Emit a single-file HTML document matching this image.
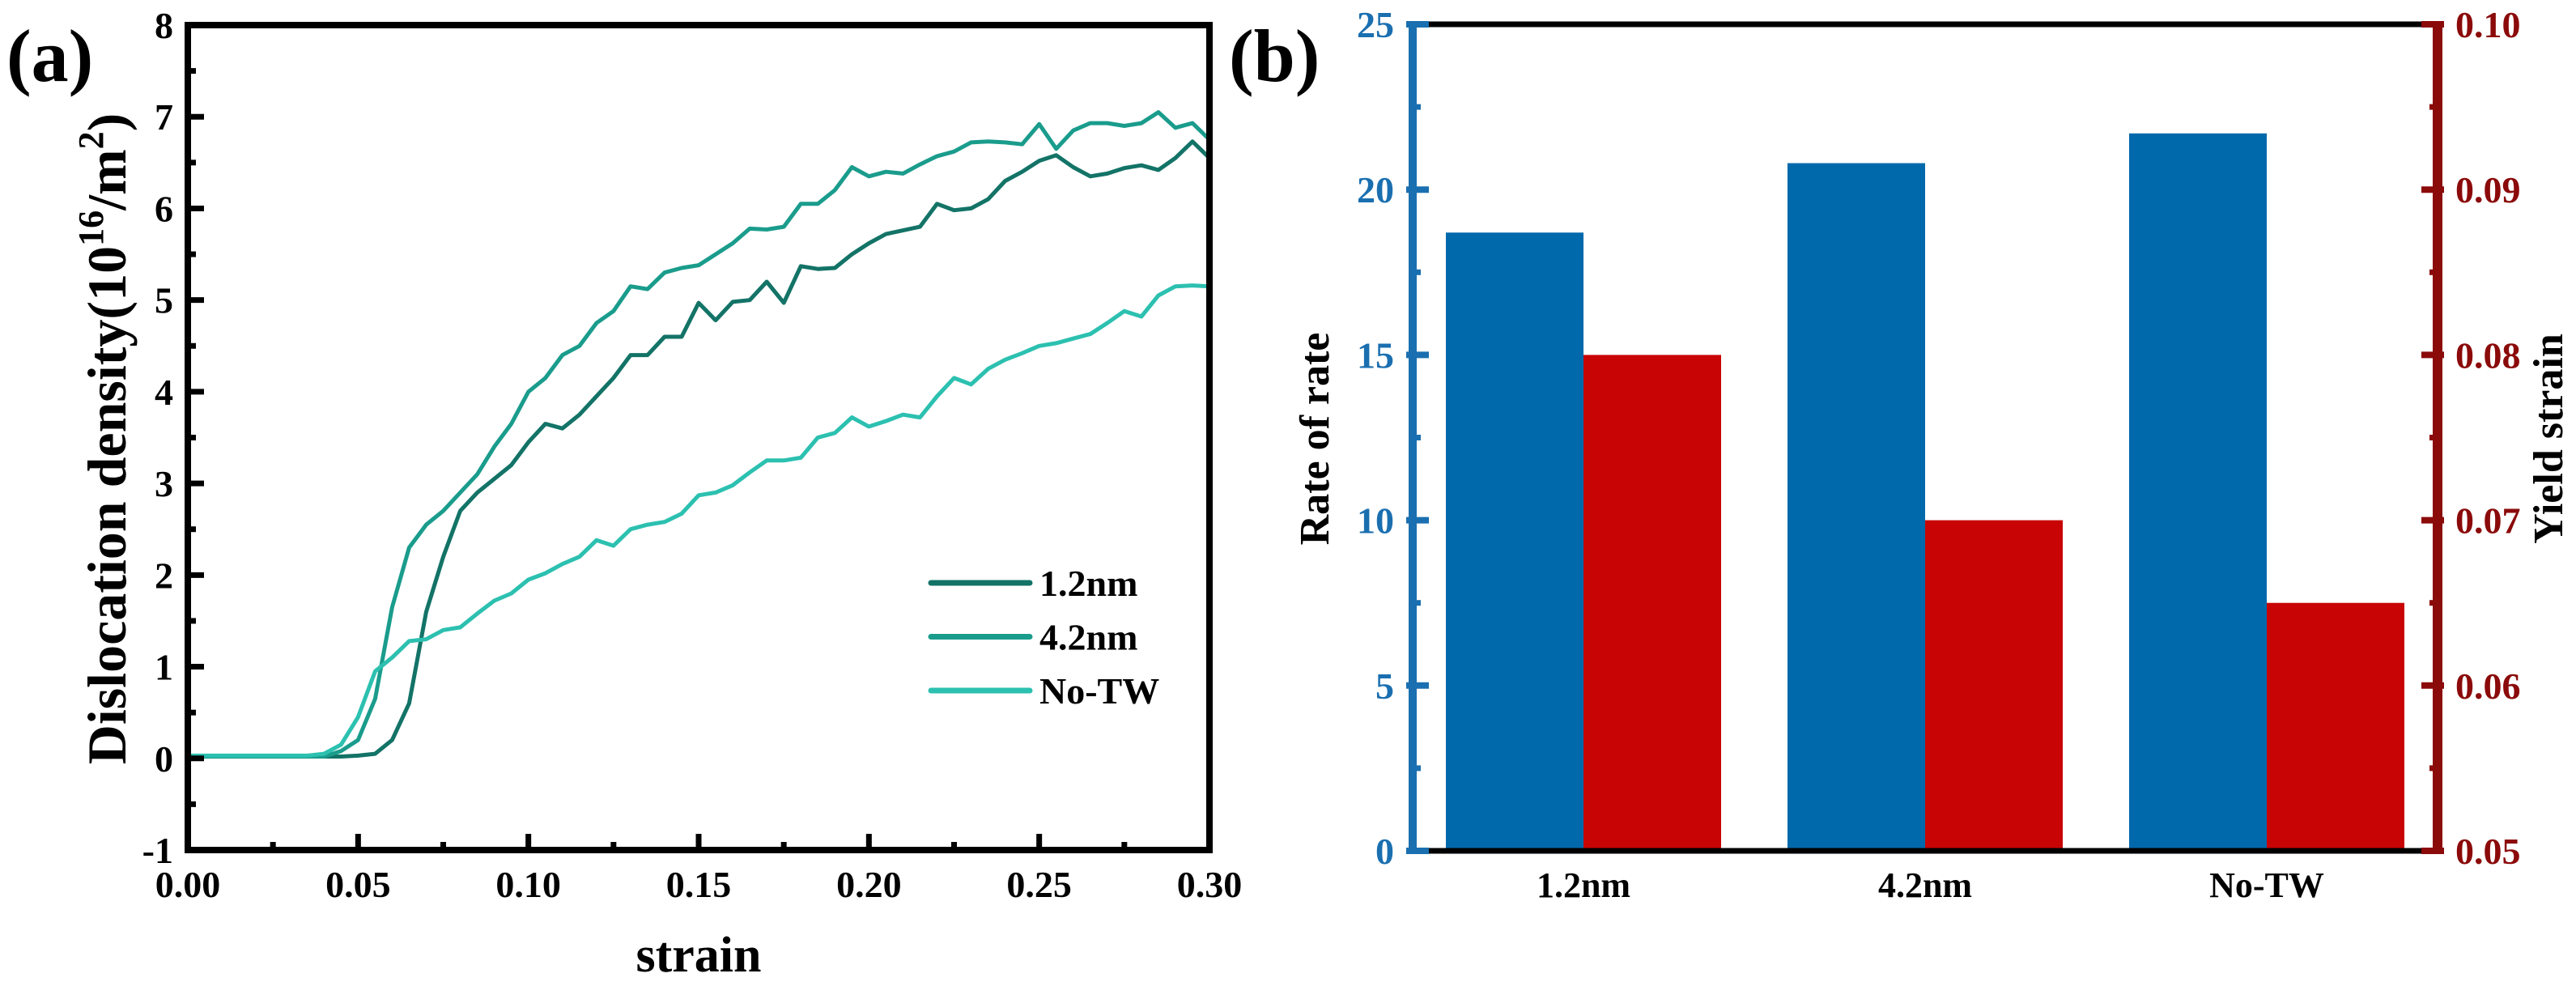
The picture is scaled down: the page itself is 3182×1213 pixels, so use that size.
<!DOCTYPE html>
<html><head><meta charset="utf-8"><style>
html,body{margin:0;padding:0;background:#fff;}
svg{display:block;font-family:"Liberation Serif",serif;font-weight:bold;}
</style></head><body>
<svg id="fig" width="3182" height="1213" viewBox="0 0 3182 1213" xmlns="http://www.w3.org/2000/svg">
<g id="pa"></g>
<g id="pb"></g>
</svg>
<script>
const strain = [];
for (let i = 0; i <= 60; i++) strain.push(i * 0.005);
const s12 = [0.02,0.02,0.02,0.02,0.02,0.02,0.02,0.02,0.02,0.02,0.03,0.05,0.2,0.6,1.6,2.2,2.7,2.9,3.05,3.2,3.45,3.65,3.6,3.75,3.95,4.15,4.4,4.4,4.6,4.6,4.97,4.78,4.98,5.0,5.2,4.97,5.37,5.34,5.35,5.5,5.62,5.72,5.76,5.8,6.05,5.98,6.0,6.1,6.3,6.4,6.52,6.58,6.45,6.35,6.38,6.44,6.47,6.42,6.55,6.73,6.55];
const s42 = [0.02,0.02,0.02,0.02,0.02,0.02,0.02,0.02,0.02,0.08,0.2,0.65,1.65,2.3,2.55,2.7,2.9,3.1,3.4,3.65,4.0,4.15,4.4,4.5,4.75,4.88,5.15,5.12,5.3,5.35,5.38,5.5,5.62,5.78,5.77,5.8,6.05,6.05,6.2,6.45,6.35,6.4,6.38,6.48,6.57,6.62,6.72,6.73,6.72,6.7,6.92,6.65,6.85,6.93,6.93,6.9,6.93,7.05,6.88,6.93,6.75];
const sNo = [0.03,0.03,0.03,0.03,0.03,0.03,0.03,0.03,0.05,0.15,0.45,0.95,1.1,1.28,1.3,1.4,1.43,1.58,1.72,1.8,1.95,2.02,2.12,2.2,2.38,2.32,2.5,2.55,2.58,2.67,2.87,2.9,2.98,3.12,3.25,3.25,3.28,3.5,3.55,3.72,3.62,3.68,3.75,3.72,3.95,4.15,4.08,4.25,4.35,4.42,4.5,4.53,4.58,4.63,4.75,4.88,4.82,5.05,5.15,5.16,5.15];
const seriesNames = ["1.2nm","4.2nm","No-TW"];
const xTicks = ["0.00","0.05","0.10","0.15","0.20","0.25","0.30"];
const yTicks = ["-1","0","1","2","3","4","5","6","7","8"];
const categories = ["1.2nm","4.2nm","No-TW"];
const rateVals = [18.7, 20.8, 21.7];
const yieldVals = [0.080, 0.070, 0.065];
const leftTicks = ["0","5","10","15","20","25"];
const rightTicks = ["0.05","0.06","0.07","0.08","0.09","0.10"];

const NS = "http://www.w3.org/2000/svg";
function mk(parent, tag, attrs, text){
  const e = document.createElementNS(NS, tag);
  for (const k in attrs) e.setAttribute(k, attrs[k]);
  if (text !== undefined) e.textContent = text;
  parent.appendChild(e); return e;
}
// Panel a
const pa = document.getElementById('pa');
const AX0=232, AX1=1494, AY0=1050, AY1=31;
const ax = v => AX0 + (v-0)/(0.3)*(AX1-AX0);
const ay = v => AY0 - (v+1)/9*(AY0-AY1);
const colors = ["#137367","#1a9c8c","#2cc0b0"];
[s12,s42,sNo].forEach((s,k)=>{
  const d = s.map((v,i)=>(i?'L':'M')+ax(strain[i]).toFixed(1)+','+ay(v).toFixed(1)).join(' ');
  const p = mk(pa,'path',{d:d,fill:'none',stroke:colors[k],'stroke-width':5,'stroke-linejoin':'round'});
  
  
});
const fa = mk(pa,'rect',{x:AX0,y:AY1,width:AX1-AX0,height:AY0-AY1,fill:'none',stroke:'#000','stroke-width':8});


xTicks.forEach((t,i)=>{
  const v = parseFloat(t), x = ax(v);
  mk(pa,'line',{x1:x,x2:x,y1:AY0,y2:AY0-20,stroke:'#000','stroke-width':7});
  if (i<xTicks.length-1) { const xm = ax(v+0.025); mk(pa,'line',{x1:xm,x2:xm,y1:AY0,y2:AY0-10,stroke:'#000','stroke-width':7}); }
  const tx = mk(pa,'text',{x:x,y:1108,'font-size':46,'text-anchor':'middle'},t);
  
  
});
yTicks.forEach((t,i)=>{
  const v = parseFloat(t), y = ay(v);
  mk(pa,'line',{x1:AX0,x2:AX0+20,y1:y,y2:y,stroke:'#000','stroke-width':7});
  if (i<yTicks.length-1) { const ym = ay(v+0.5); mk(pa,'line',{x1:AX0,x2:AX0+10,y1:ym,y2:ym,stroke:'#000','stroke-width':7}); }
  const tx = mk(pa,'text',{x:214,y:y+16,'font-size':46,'text-anchor':'end'},t);
  
  
});
seriesNames.forEach((n,k)=>{
  const y = 720 + k*66.5;
  const l = mk(pa,'line',{x1:1150,x2:1272,y1:y,y2:y,stroke:colors[k],'stroke-width':7,'stroke-linecap':'round'});
  
  
  const tx = mk(pa,'text',{x:1284,y:y+16,'font-size':46},n);
  
  
});
// Panel b
const pb = document.getElementById('pb');
const BX0=1745, BX1=3011, BY0=1051, BY1=30;
const bx = c => BX0 + (c+0.5)/3*(BX1-BX0);
const byL = v => BY0 - v/25*(BY0-BY1);
const byR = v => BY0 - (v-0.05)/0.05*(BY0-BY1);
const BW = 170;
categories.forEach((c,i)=>{
  const cx = bx(i);
  const b1 = mk(pb,'rect',{x:cx-BW,y:byL(rateVals[i]),width:BW,height:BY0-byL(rateVals[i]),fill:'#0069ab'});
  
  
  const b2 = mk(pb,'rect',{x:cx,y:byR(yieldVals[i]),width:BW,height:BY0-byR(yieldVals[i]),fill:'#c80404'});
  
  
  const tx = mk(pb,'text',{x:cx,y:1108,'font-size':44,'text-anchor':'middle'},c);
  
  
});
mk(pb,'line',{x1:BX0,x2:BX1,y1:BY1,y2:BY1,stroke:'#000','stroke-width':7});
mk(pb,'line',{x1:BX0,x2:BX1,y1:BY0,y2:BY0,stroke:'#000','stroke-width':7});
const la = mk(pb,'line',{x1:BX0,x2:BX0,y1:BY1-4,y2:BY0+4,stroke:'#1a6fb0','stroke-width':10});


const ra = mk(pb,'line',{x1:BX1,x2:BX1,y1:BY1-4,y2:BY0+4,stroke:'#8b0a0a','stroke-width':12});


leftTicks.forEach((t,i)=>{
  const v = parseFloat(t), y = byL(v);
  mk(pb,'line',{x1:BX0-8,x2:BX0+20,y1:y,y2:y,stroke:'#1a6fb0','stroke-width':8});
  if (i<leftTicks.length-1){ const ym=byL(v+2.5); mk(pb,'line',{x1:BX0,x2:BX0+10,y1:ym,y2:ym,stroke:'#1a6fb0','stroke-width':7}); }
  const tx = mk(pb,'text',{x:1722,y:y+16,'font-size':46,'text-anchor':'end',fill:'#1a6fb0'},t);
  
  
});
rightTicks.forEach((t,i)=>{
  const v = parseFloat(t), y = byR(v);
  mk(pb,'line',{x1:BX1-20,x2:BX1+8,y1:y,y2:y,stroke:'#8b0a0a','stroke-width':8});
  if (i<rightTicks.length-1){ const ym=byR(v+0.005); mk(pb,'line',{x1:BX1-10,x2:BX1,y1:ym,y2:ym,stroke:'#8b0a0a','stroke-width':7}); }
  const tx = mk(pb,'text',{x:3033,y:y+16,'font-size':46,fill:'#8b0a0a'},t);
  
  
});
</script>
<svg width="3182" height="1213" style="position:absolute;left:0;top:0;font-family:'Liberation Serif',serif;font-weight:bold;">
<text x="8" y="100" font-size="92">(a)</text>
<text x="1518" y="100" font-size="92">(b)</text>
<text x="863" y="1200" font-size="62" text-anchor="middle">strain</text>
<text transform="translate(155,542) rotate(-90)" font-size="68" text-anchor="middle">Dislocation density(10<tspan font-size="44" dy="-28">16</tspan><tspan dy="28">/m</tspan><tspan font-size="44" dy="-28">2</tspan><tspan dy="28">)</tspan></text>
<text transform="translate(1641,542) rotate(-90)" font-size="52" text-anchor="middle">Rate of rate</text>
<text transform="translate(3165,542) rotate(-90)" font-size="52" text-anchor="middle">Yield strain</text>
</svg>
</body></html>
